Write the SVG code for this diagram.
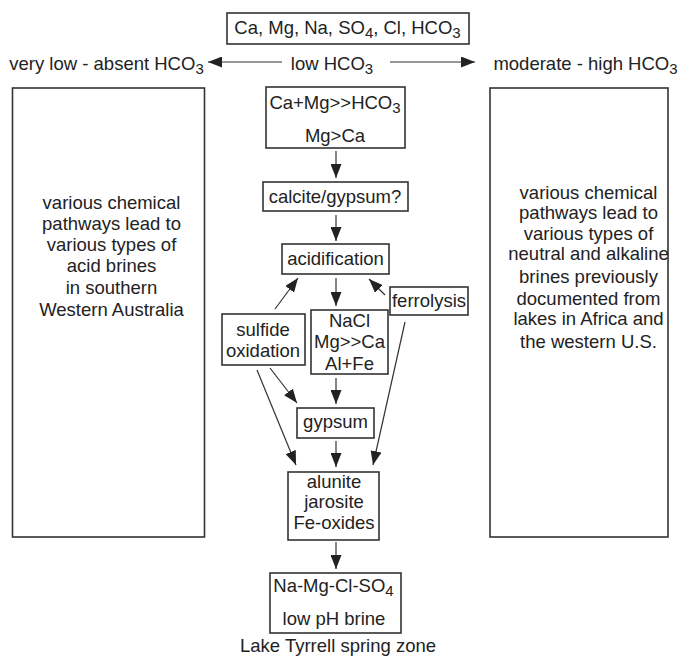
<svg xmlns="http://www.w3.org/2000/svg" width="680" height="656" viewBox="0 0 680 656">
<style>
text{font-family:"Liberation Sans",Arial,sans-serif;font-size:18.5px;fill:#222;text-anchor:middle}
tspan.s{font-size:15px}
.b{fill:#fff;stroke:#333;stroke-width:1.6}
.c line{stroke:#333;stroke-width:1.2;marker-end:url(#ah)}
</style>
<defs>
<marker id="ah" viewBox="0 0 14 11" refX="14" refY="5.5" markerWidth="14" markerHeight="11" markerUnits="userSpaceOnUse" orient="auto">
<path d="M0,0 L14,5.5 L0,11 Z" fill="#222"/>
</marker>
</defs>
<rect width="680" height="656" fill="#fff"/>
<g id="top">
<rect class="b" x="227" y="13" width="242" height="31"/>
<text x="347.5" y="33.5">Ca, Mg, Na, SO<tspan class="s" dy="4">4</tspan><tspan dy="-4">, Cl, HCO</tspan><tspan class="s" dy="4">3</tspan></text>
</g>
<g id="low">
<text x="332" y="70">low HCO<tspan class="s" dy="4">3</tspan></text>
</g>
<g id="verylow">
<text x="106.5" y="70">very low - absent HCO<tspan class="s" dy="4">3</tspan></text>
</g>
<g id="moderate">
<text x="585.5" y="70">moderate - high HCO<tspan class="s" dy="4">3</tspan></text>
</g>
<g id="leftbox">
<rect class="b" x="12.5" y="88" width="192" height="449"/>
<text x="111.5" y="209">various chemical</text>
<text x="111.5" y="230">pathways lead to</text>
<text x="111.5" y="251">various types of</text>
<text x="111.5" y="272">acid brines</text>
<text x="111.5" y="294">in southern</text>
<text x="111.5" y="316">Western Australia</text>
</g>
<g id="rightbox">
<rect class="b" x="490" y="88" width="178" height="449"/>
<text x="588.5" y="199">various chemical</text>
<text x="588.5" y="219">pathways lead to</text>
<text x="588.5" y="239.5">various types of</text>
<text x="588.5" y="260">neutral and alkaline</text>
<text x="588.5" y="283">brines previously</text>
<text x="588.5" y="305">documented from</text>
<text x="588.5" y="325">lakes in Africa and</text>
<text x="588.5" y="348">the western U.S.</text>
</g>
<g id="camg">
<rect class="b" x="266" y="87" width="139" height="61"/>
<text x="335" y="108.5">Ca+Mg&gt;&gt;HCO<tspan class="s" dy="4">3</tspan></text>
<text x="335" y="141.5">Mg&gt;Ca</text>
</g>
<g id="calcite">
<rect class="b" x="263" y="182" width="145" height="29"/>
<text x="335" y="203">calcite/gypsum?</text>
</g>
<g id="acidification">
<rect class="b" x="282" y="244" width="107" height="30"/>
<text x="335.5" y="265">acidification</text>
</g>
<g id="ferrolysis">
<rect class="b" x="390" y="287" width="78" height="28"/>
<text x="429" y="307">ferrolysis</text>
</g>
<g id="sulfide">
<rect class="b" x="222" y="314" width="83" height="51"/>
<text x="263" y="335.5">sulfide</text>
<text x="263" y="356.5">oxidation</text>
</g>
<g id="nacl">
<rect class="b" x="311" y="310" width="77" height="64"/>
<text x="349.5" y="326.5">NaCl</text>
<text x="349.5" y="348">Mg&gt;&gt;Ca</text>
<text x="349.5" y="370">Al+Fe</text>
</g>
<g id="gypsum">
<rect class="b" x="297" y="408" width="77" height="30"/>
<text x="335.5" y="428">gypsum</text>
</g>
<g id="alunite">
<rect class="b" x="288" y="472" width="91" height="68"/>
<text x="334" y="488">alunite</text>
<text x="334" y="508">jarosite</text>
<text x="334" y="529">Fe-oxides</text>
</g>
<g id="brine">
<rect class="b" x="270" y="573" width="131" height="60"/>
<text x="333.5" y="591.5">Na-Mg-Cl-SO<tspan class="s" dy="4">4</tspan></text>
<text x="334" y="625">low pH brine</text>
</g>
<g id="label">
<text x="338" y="651.5">Lake Tyrrell spring zone</text>
</g>
<g class="c" id="connectors">
<line x1="282" y1="62" x2="208" y2="62"/>
<line x1="390" y1="62" x2="475" y2="62"/>
<line x1="336" y1="151" x2="336" y2="178"/>
<line x1="336" y1="215" x2="336" y2="241"/>
<line x1="336" y1="278" x2="336" y2="306"/>
<line x1="275" y1="309" x2="298" y2="278"/>
<line x1="385" y1="295" x2="369" y2="279"/>
<line x1="336" y1="378" x2="336" y2="404"/>
<line x1="270" y1="368" x2="297" y2="403"/>
<line x1="257" y1="370" x2="296" y2="465"/>
<line x1="336" y1="441" x2="336" y2="467"/>
<line x1="405" y1="322" x2="373" y2="465"/>
<line x1="336" y1="542" x2="336" y2="569"/>
</g>
</svg>
